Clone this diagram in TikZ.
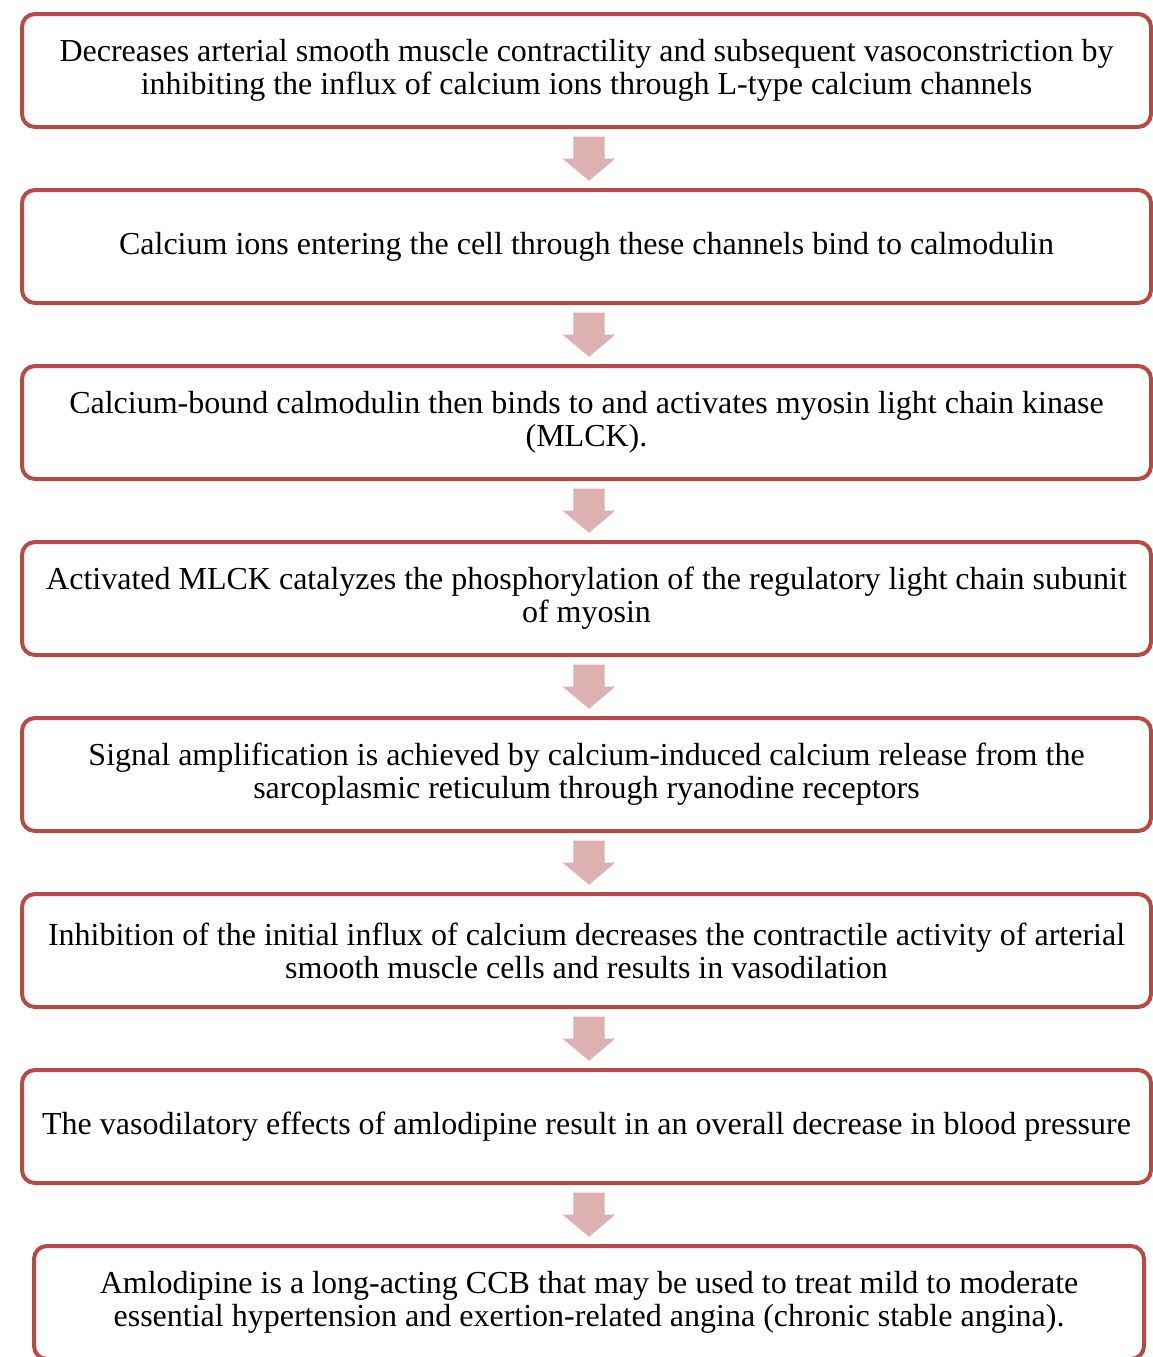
\documentclass[tikz,border=0pt]{standalone}
\usepackage{fontspec}
\setmainfont{Liberation Serif}
\usetikzlibrary{positioning,shapes.arrows,calc}
\definecolor{flowred}{RGB}{182,74,71}
\definecolor{flowpink}{RGB}{222,177,177}

\begin{document}
\begin{tikzpicture}[x=1pt,y=1pt,node distance=59pt,
 stepbox/.style={draw=flowred,line width=4pt,rounded corners=13pt,fill=white,
  minimum width=1129pt,minimum height=113pt,inner sep=0pt,align=center,
  font=\fontsize{32}{33}\selectfont},
 flowarrow/.style={single arrow,fill=flowpink,draw=none,rotate=-90,anchor=tail,
  inner xsep=0pt,inner ysep=15.5pt,minimum height=44pt,
  single arrow head extend=10.5pt,single arrow tip angle=100}]
\useasboundingbox (0,0) rectangle (1153,-1357);
\node[stepbox] (b1) at (586.5,-70.5) {Decreases arterial smooth muscle contractility and subsequent vasoconstriction by\\inhibiting the influx of calcium ions through L-type calcium channels};
\node[stepbox,below=of b1] (b2) {Calcium ions entering the cell through these channels bind to calmodulin};
\node[stepbox,below=of b2] (b3) {Calcium-bound calmodulin then binds to and activates myosin light chain kinase\\(MLCK).};
\node[stepbox,below=of b3] (b4) {Activated MLCK catalyzes the phosphorylation of the regulatory light chain subunit\\of myosin};
\node[stepbox,below=of b4] (b5) {Signal amplification is achieved by calcium-induced calcium release from the\\sarcoplasmic reticulum through ryanodine receptors};
\node[stepbox,below=of b5] (b6) {Inhibition of the initial influx of calcium decreases the contractile activity of arterial\\smooth muscle cells and results in vasodilation};
\node[stepbox,below=of b6] (b7) {The vasodilatory effects of amlodipine result in an overall decrease in blood pressure};
\node[stepbox,below=of b7,minimum width=1110pt,xshift=2.5pt] (b8) {Amlodipine is a long-acting CCB that may be used to treat mild to moderate\\essential hypertension and exertion-related angina (chronic stable angina).};
\foreach \a/\b in {b1/b2,b2/b3,b3/b4,b4/b5,b5/b6,b6/b7,b7/b8}
 \node[flowarrow] (\a-\b) at ($(\a.south)+(2.5,-7.5)$) {};
\end{tikzpicture}
\end{document}
